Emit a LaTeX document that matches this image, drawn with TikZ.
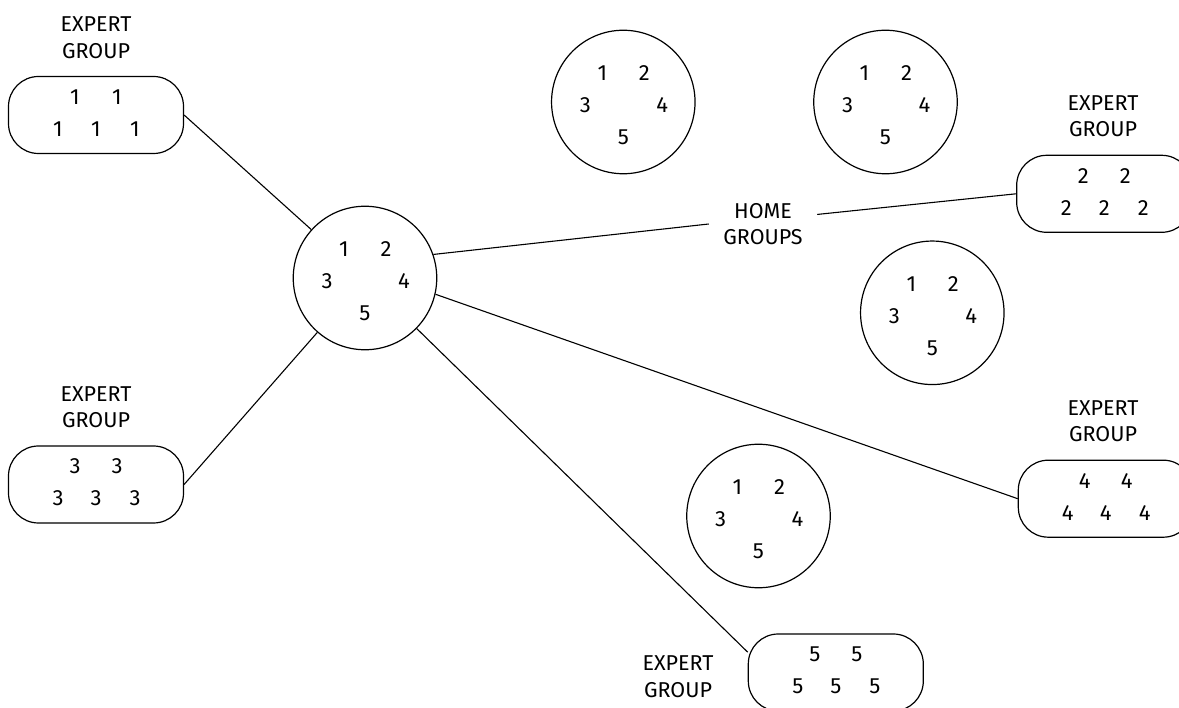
\documentclass[tikz,border=0pt]{standalone}
\usepackage{fontspec}
\setmainfont{Fira Sans}
\usetikzlibrary{calc}
\newcommand\expertbox[4]{%
  \node[grp] (#1) at (#2,#3) {};
  \node[num] (#1-a) at ($(#1)+(-21,-18)$) {#4};
  \node[num] (#1-b) at ($(#1)+(21,-18)$) {#4};
  \node[num] (#1-c) at ($(#1)+(-38,14)$) {#4};
  \node[num] (#1-d) at ($(#1)+(0,14)$) {#4};
  \node[num] (#1-e) at ($(#1)+(39,14)$) {#4};
}
\newcommand\homecircle[3]{%
  \node[hg] (#1) at (#2,#3) {};
  \node[num] (#1-a) at ($(#1)+(-21,-29)$) {1};
  \node[num] (#1-b) at ($(#1)+(21,-29)$) {2};
  \node[num] (#1-c) at ($(#1)+(-38,3)$) {3};
  \node[num] (#1-d) at ($(#1)+(39,3)$) {4};
  \node[num] (#1-e) at ($(#1)+(0,35)$) {5};
}
\begin{document}
\begin{tikzpicture}[x=1pt,y=-1pt, line width=1.2pt,
  grp/.style={draw, rounded corners=30pt, minimum width=175pt, minimum height=77pt, inner sep=0pt},
  hg/.style={draw, circle, minimum size=143.5pt, inner sep=0pt},
  num/.style={inner sep=0pt, font=\fontsize{22}{26}\selectfont},
  lbl/.style={align=center, inner sep=0pt, font=\fontsize{21.5}{26.5}\selectfont},
  link/.style={line width=1.1pt}]
\useasboundingbox (0,0) rectangle (1179,708);
\clip (0,0) rectangle (1179,708);
% expert groups
\expertbox{b1}{96}{115}{1}
\expertbox{b2}{1104.2}{193.8}{2}
\expertbox{b3}{96}{484.5}{3}
\expertbox{b4}{1105.8}{498.7}{4}
\expertbox{b5}{835.8}{672.5}{5}
\node[lbl] (l1) at (96,37.5) {EXPERT\\GROUP};
\node[lbl] (l2) at (1103,116.3) {EXPERT\\GROUP};
\node[lbl] (l3) at (96,407) {EXPERT\\GROUP};
\node[lbl] (l4) at (1103,421.2) {EXPERT\\GROUP};
\node[lbl] (l5) at (678,676.5) {EXPERT\\GROUP};
% home groups
\homecircle{c0}{365}{278}
\homecircle{c1}{623.3}{102}
\homecircle{c2}{885.5}{102}
\homecircle{c3}{932.3}{312.8}
\homecircle{c4}{758.5}{516}
\node[lbl, inner xsep=14pt, inner ysep=4pt] (home) at (763,224) {HOME\\GROUPS};
% connectors
\draw[link] (b1.east) -- (c0);
\draw[link] (b3.east) -- (c0);
\draw[link] (c0.19) -- (home.west);
\draw[link] (home.10) -- (b2.west);
\draw[link] (c0.-13) -- (b4.west);
\draw[link] (c0) -- (b5.167.6);
\end{tikzpicture}
\end{document}
